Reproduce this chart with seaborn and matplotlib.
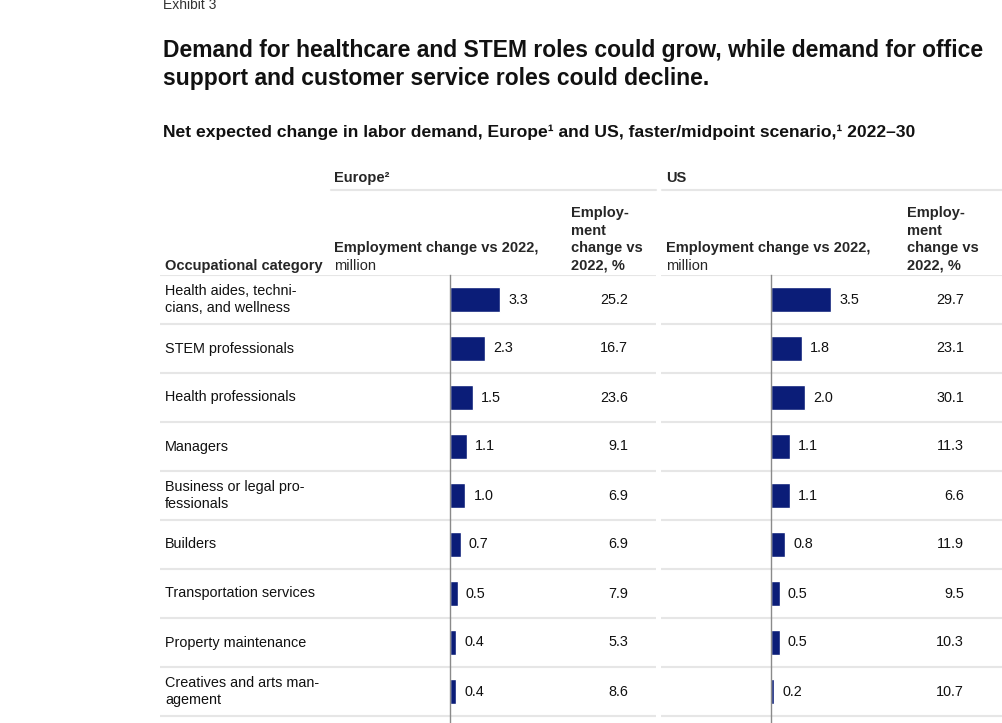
import numpy as np
import pandas as pd
import matplotlib
matplotlib.use("Agg")
import matplotlib.pyplot as plt
import seaborn as sns

# ==========================================
# DATA
# ==========================================

categories = [
    "Health aides, techni-\ncians, and wellness",
    "STEM professionals",
    "Health professionals",
    "Managers",
    "Business or legal pro-\nfessionals",
    "Builders",
    "Transportation services",
    "Property maintenance",
    "Creatives and arts man-\nagement",
]
europe_million = [3.3, 2.3, 1.5, 1.1, 1.0, 0.7, 0.5, 0.4, 0.4]
europe_pct = [25.2, 16.7, 23.6, 9.1, 6.9, 6.9, 7.9, 5.3, 8.6]
us_million = [3.5, 1.8, 2.0, 1.1, 1.1, 0.8, 0.5, 0.5, 0.2]
us_pct = [29.7, 23.1, 30.1, 11.3, 6.6, 11.9, 9.5, 10.3, 10.7]

df = pd.DataFrame({
    "category": categories,
    "europe": europe_million,
    "europe_pct": europe_pct,
    "us": us_million,
    "us_pct": us_pct,
})

# ==========================================
# STYLE
# ==========================================

sns.set_theme(style="white")
plt.rcParams["font.family"] = ["Liberation Sans", "DejaVu Sans"]

NAVY = "#0b1d78"
GRID = "#e6e6e6"
AXIS = "#8a8a8a"
W, H = 1002, 723
FS = 10.4      # body text
FS_HEAD = 10.5 # column headers

fig = plt.figure(figsize=(W / 100, H / 100), dpi=100)
fig.patch.set_facecolor("white")


def fx(x):
    return x / W


def fy(y):
    return 1 - y / H


# table area (rows) in pixel space
TOP, BOTTOM = 275, 723
ROW_H = 49
n_rows = (BOTTOM - TOP) / ROW_H
ylim = (-0.5 + n_rows, -0.5)

# background axes for row labels, separators, percentages
ax_bg = fig.add_axes([0, fy(BOTTOM), 1, (BOTTOM - TOP) / H])
ax_bg.set_xlim(0, W)
ax_bg.set_ylim(*ylim)
ax_bg.axis("off")

# ==========================================
# HEADINGS
# ==========================================

fig.text(fx(163), fy(5), "Exhibit 3", fontsize=10, color="#333333", va="center")
fig.text(fx(163), fy(64.5),
         "Demand for healthcare and STEM roles could grow, while demand for office\n"
         "support and customer service roles could decline.",
         fontsize=16.5, fontweight="bold", va="center", linespacing=1.28, color="#111111")
fig.text(fx(163), fy(132),
         "Net expected change in labor demand, Europe\u00b9 and US, faster/midpoint scenario,\u00b9 2022\u201330",
         fontsize=12.6, fontweight="bold", va="center", color="#111111")

fig.text(fx(334), fy(178), "Europe\u00b2", fontsize=FS_HEAD, fontweight="bold", va="center")
fig.text(fx(666), fy(178), "US", fontsize=FS_HEAD, fontweight="bold", va="center")
fig.add_artist(plt.Line2D([fx(331), fx(656)], [fy(190), fy(190)], color=GRID, lw=1.5))
fig.add_artist(plt.Line2D([fx(662), fx(1002)], [fy(190), fy(190)], color=GRID, lw=1.5))

fig.text(fx(165), fy(266), "Occupational category", fontsize=FS_HEAD, fontweight="bold", va="center")
for x0, xp in [(334, 571), (666, 907)]:
    fig.text(fx(x0), fy(248), "Employment change vs 2022,", fontsize=FS_HEAD, fontweight="bold", va="center")
    fig.text(fx(x0), fy(266), "million", fontsize=FS_HEAD, va="center")
    fig.text(fx(xp), fy(239.5), "Employ-\nment\nchange vs\n2022, %", fontsize=FS_HEAD,
             fontweight="bold", va="center", linespacing=1.32)

# ==========================================
# ROWS: labels, separators, percentages
# ==========================================

for i, row in df.iterrows():
    ax_bg.text(165, i, row["category"], fontsize=FS, va="center", linespacing=1.28, color="#111111")
    ax_bg.text(628, i, f"{row['europe_pct']:.1f}", fontsize=FS, va="center", ha="right", color="#111111")
    ax_bg.text(964, i, f"{row['us_pct']:.1f}", fontsize=FS, va="center", ha="right", color="#111111")

for i in range(len(df) + 1):
    y = i - 0.5
    ax_bg.plot([160, 656], [y, y], color=GRID, lw=1.5, solid_capstyle="butt")
    ax_bg.plot([661, 1002], [y, y], color=GRID, lw=1.5, solid_capstyle="butt")

# ==========================================
# BARS
# ==========================================


def bar_panel(x_left, px_per_unit, col):
    width_px = 200
    ax = fig.add_axes([fx(x_left), fy(BOTTOM), width_px / W, (BOTTOM - TOP) / H])
    ax.patch.set_alpha(0)
    sns.barplot(data=df, x=col, y="category", color=NAVY, width=0.51,
                saturation=1, orient="h", ax=ax)
    ax.set_xlim(0, width_px / px_per_unit)
    ax.set_ylim(*ylim)
    ax.bar_label(ax.containers[0], fmt="%.1f", padding=6, fontsize=FS, color="#111111")
    for s in ["top", "right", "bottom"]:
        ax.spines[s].set_visible(False)
    ax.spines["left"].set_color(AXIS)
    ax.spines["left"].set_linewidth(1)
    ax.set_xticks([])
    ax.set_yticks([])
    ax.set_xlabel("")
    ax.set_ylabel("")
    return ax


ax_eu = bar_panel(450, 15.2, "europe")
ax_us = bar_panel(771, 17.2, "us")

fig.savefig("out.png", dpi=100, facecolor="white")
